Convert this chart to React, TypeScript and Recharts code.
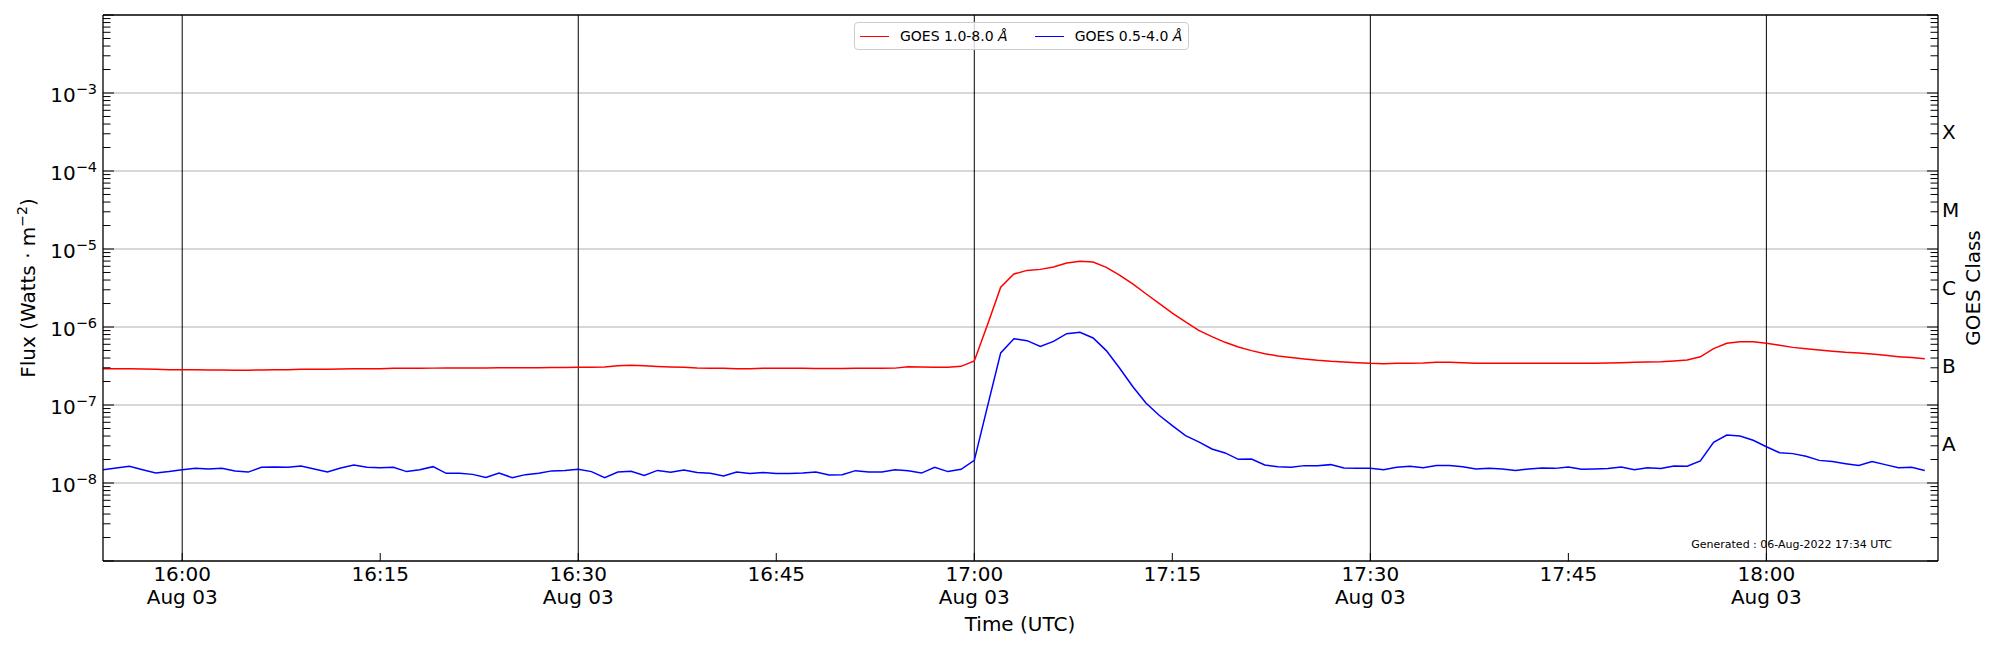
import { LineChart, Line, XAxis, YAxis, ReferenceLine, Legend } from "recharts";

const FONT = "DejaVu Sans, Liberation Sans, sans-serif";

// time axis, minutes after midnight UTC (1-minute GOES cadence)
const START_TIME = 15 * 60 + 54; // 15:54
const X_DOMAIN = [15 * 60 + 54, 18 * 60 + 13];
const TIME_TICKS = [960, 975, 990, 1005, 1020, 1035, 1050, 1065, 1080];
const HALF_HOUR_LINES = [960, 990, 1020, 1050, 1080];
const DATE_LABEL = "Aug 03";

// GOES 1.0-8.0 Å flux, W/m², 15:54 .. 18:12
const XRS_LONG = [
  2.92e-7, 2.92e-7, 2.92e-7, 2.9e-7, 2.87e-7, 2.84e-7, 2.84e-7, 2.84e-7, 2.82e-7, 2.82e-7,
  2.79e-7, 2.79e-7, 2.82e-7, 2.84e-7, 2.84e-7, 2.87e-7, 2.87e-7, 2.87e-7, 2.9e-7, 2.92e-7,
  2.92e-7, 2.92e-7, 2.95e-7, 2.95e-7, 2.95e-7, 2.97e-7, 2.98e-7, 2.98e-7, 2.98e-7, 2.99e-7,
  3.0e-7, 3.0e-7, 3.01e-7, 3.01e-7, 3.02e-7, 3.03e-7, 3.04e-7, 3.04e-7, 3.06e-7, 3.18e-7,
  3.23e-7, 3.18e-7, 3.12e-7, 3.08e-7, 3.04e-7, 2.98e-7, 2.95e-7, 2.95e-7, 2.92e-7, 2.92e-7,
  2.95e-7, 2.95e-7, 2.95e-7, 2.95e-7, 2.93e-7, 2.93e-7, 2.93e-7, 2.95e-7, 2.95e-7, 2.95e-7,
  2.97e-7, 3.1e-7, 3.07e-7, 3.04e-7, 3.04e-7, 3.13e-7, 3.67e-7, 1.07e-6, 3.23e-6, 4.78e-6,
  5.32e-6, 5.48e-6, 5.88e-6, 6.62e-6, 6.95e-6, 6.81e-6, 5.82e-6, 4.64e-6, 3.56e-6, 2.67e-6,
  2.01e-6, 1.51e-6, 1.16e-6, 9.06e-7, 7.52e-7, 6.36e-7, 5.54e-7, 4.98e-7, 4.55e-7, 4.25e-7,
  4.05e-7, 3.89e-7, 3.74e-7, 3.63e-7, 3.56e-7, 3.49e-7, 3.42e-7, 3.39e-7, 3.42e-7, 3.42e-7,
  3.45e-7, 3.52e-7, 3.52e-7, 3.49e-7, 3.42e-7, 3.42e-7, 3.42e-7, 3.42e-7, 3.42e-7, 3.42e-7,
  3.42e-7, 3.42e-7, 3.42e-7, 3.42e-7, 3.45e-7, 3.49e-7, 3.52e-7, 3.56e-7, 3.59e-7, 3.67e-7,
  3.78e-7, 4.15e-7, 5.28e-7, 6.18e-7, 6.49e-7, 6.49e-7, 6.18e-7, 5.82e-7, 5.48e-7, 5.28e-7,
  5.07e-7, 4.88e-7, 4.73e-7, 4.65e-7, 4.51e-7, 4.33e-7, 4.17e-7, 4.05e-7, 3.93e-7,
];

// GOES 0.5-4.0 Å flux, W/m², same times
const XRS_SHORT = [
  1.48e-8, 1.56e-8, 1.64e-8, 1.48e-8, 1.34e-8, 1.4e-8, 1.48e-8, 1.54e-8, 1.51e-8, 1.54e-8,
  1.43e-8, 1.38e-8, 1.59e-8, 1.6e-8, 1.59e-8, 1.65e-8, 1.51e-8, 1.38e-8, 1.56e-8, 1.7e-8,
  1.59e-8, 1.57e-8, 1.59e-8, 1.4e-8, 1.48e-8, 1.62e-8, 1.33e-8, 1.33e-8, 1.29e-8, 1.18e-8,
  1.34e-8, 1.17e-8, 1.28e-8, 1.33e-8, 1.43e-8, 1.45e-8, 1.5e-8, 1.4e-8, 1.17e-8, 1.38e-8,
  1.41e-8, 1.25e-8, 1.45e-8, 1.37e-8, 1.47e-8, 1.36e-8, 1.33e-8, 1.23e-8, 1.38e-8, 1.32e-8,
  1.36e-8, 1.32e-8, 1.32e-8, 1.34e-8, 1.38e-8, 1.27e-8, 1.28e-8, 1.44e-8, 1.38e-8, 1.38e-8,
  1.48e-8, 1.44e-8, 1.34e-8, 1.59e-8, 1.4e-8, 1.5e-8, 1.95e-8, 9.6e-8, 4.65e-7, 7.08e-7,
  6.68e-7, 5.65e-7, 6.55e-7, 8.22e-7, 8.55e-7, 7.23e-7, 4.98e-7, 2.98e-7, 1.73e-7, 1.06e-7,
  7.38e-8, 5.44e-8, 4.05e-8, 3.36e-8, 2.73e-8, 2.43e-8, 2.01e-8, 2.03e-8, 1.7e-8, 1.62e-8,
  1.59e-8, 1.67e-8, 1.67e-8, 1.72e-8, 1.56e-8, 1.54e-8, 1.54e-8, 1.48e-8, 1.59e-8, 1.64e-8,
  1.57e-8, 1.68e-8, 1.68e-8, 1.62e-8, 1.51e-8, 1.54e-8, 1.51e-8, 1.45e-8, 1.51e-8, 1.56e-8,
  1.54e-8, 1.6e-8, 1.5e-8, 1.51e-8, 1.53e-8, 1.6e-8, 1.48e-8, 1.57e-8, 1.53e-8, 1.65e-8,
  1.64e-8, 1.92e-8, 3.32e-8, 4.12e-8, 4.01e-8, 3.53e-8, 2.92e-8, 2.45e-8, 2.38e-8, 2.2e-8,
  1.95e-8, 1.88e-8, 1.77e-8, 1.68e-8, 1.88e-8, 1.72e-8, 1.57e-8, 1.59e-8, 1.45e-8,
];

// legend order as in the original plot
const SERIES_ORDER = ["long", "short"];

// y axis (log), decades shown, labelled decades, GOES class bands
const FLUX_DOMAIN = [1e-9, 1e-2];
const FLUX_DECADES = [-9, -8, -7, -6, -5, -4, -3];
const LABELED_DECADES = [-8, -7, -6, -5, -4, -3];
const CLASS_LABELS = ["A", "B", "C", "M", "X"];
const CLASS_EXPONENTS = [-7.5, -6.5, -5.5, -4.5, -3.5];

const TICK_GAP = 6;

const rows = XRS_LONG.map((v, i) => ({
  t: START_TIME + i,
  long: v,
  short: XRS_SHORT[i],
}));

const logTicks = [
  ...FLUX_DECADES.flatMap((e) =>
    [1, 2, 3, 4, 5, 6, 7, 8, 9].map((m) => m * 10 ** e)
  ),
  FLUX_DOMAIN[1],
];
const classTicks = CLASS_EXPONENTS.map((e) => 10 ** e);
const rightTicks = [...logTicks, ...classTicks].sort((a, b) => a - b);

function decadeOf(v: number) {
  const lg = Math.log10(v);
  const e = Math.round(lg);
  return Math.abs(lg - e) < 1e-6 ? e : null;
}

function fmtTime(m: number) {
  const h = Math.floor(m / 60);
  const mm = m % 60;
  return `${h}:${mm < 10 ? "0" : ""}${mm}`;
}

function FluxTick(props: any) {
  const { x, y, payload } = props;
  const e = decadeOf(payload.value);
  const edge = x + TICK_GAP;
  return (
    <g>
      <line x1={edge} x2={edge + (e !== null ? 11 : 7.5)} y1={y} y2={y} stroke="#000" strokeWidth={1} />
      {e !== null && LABELED_DECADES.includes(e) && (
        <text x={x} y={y + 9} textAnchor="end" fontSize={20} fontFamily={FONT} fill="#000">
          10
          <tspan dy={-8.3} fontSize={14.5}>{`\u2212${-e}`}</tspan>
        </text>
      )}
    </g>
  );
}

function ClassTick(props: any) {
  const { x, y, payload } = props;
  const v = payload.value;
  const ci = CLASS_EXPONENTS.findIndex((e) => Math.abs(Math.log10(v) - e) < 1e-6);
  if (ci >= 0) {
    return (
      <text x={x - 2} y={y + 7.3} textAnchor="start" fontSize={20} fontFamily={FONT} fill="#000">
        {CLASS_LABELS[ci]}
      </text>
    );
  }
  const e = decadeOf(v);
  const edge = x - TICK_GAP;
  return <line x1={edge} x2={edge - (e !== null ? 11 : 7.5)} y1={y} y2={y} stroke="#000" strokeWidth={1} />;
}

function TimeTick(props: any) {
  const { x, y, payload } = props;
  const m = payload.value;
  const base = y - TICK_GAP;
  return (
    <g>
      <line x1={x} x2={x} y1={base} y2={base - 8} stroke="#000" strokeWidth={1} />
      <text x={x} y={base + 20.3} textAnchor="middle" fontSize={20} fontFamily={FONT} fill="#000">
        {fmtTime(m)}
      </text>
      {m % 30 === 0 && (
        <text x={x} y={base + 42.9} textAnchor="middle" fontSize={20} fontFamily={FONT} fill="#000">
          {DATE_LABEL}
        </text>
      )}
    </g>
  );
}

function GoesLegend({ payload }: any) {
  const items = [...(payload || [])].sort(
    (a: any, b: any) => SERIES_ORDER.indexOf(a.dataKey) - SERIES_ORDER.indexOf(b.dataKey)
  );
  return (
    <div
      style={{
        display: "inline-flex",
        alignItems: "center",
        height: 28,
        boxSizing: "border-box",
        border: "1px solid #cccccc",
        borderRadius: 4,
        background: "rgba(255,255,255,0.8)",
        padding: "0 6px 0 5px",
        fontFamily: FONT,
        fontSize: 14,
        color: "#000",
        whiteSpace: "nowrap",
      }}
    >
      {items.map((p: any, i: number) => {
        const name = String(p.value);
        const plain = name.replace("Å", "");
        return (
          <div key={name} style={{ display: "flex", alignItems: "center", marginLeft: i ? 27 : 0 }}>
            <span style={{ display: "inline-block", width: 29, borderTop: `1.5px solid ${p.color}`, marginRight: 11 }} />
            <span>
              {plain}
              <i>Å</i>
            </span>
          </div>
        );
      })}
    </div>
  );
}

export default function App() {
  return (
    <div style={{ position: "absolute", left: 0, top: 0, width: 2000, height: 650, background: "#fff" }}>
      <LineChart
        width={2000}
        height={650}
        data={rows}
        margin={{ top: 15, right: 7, bottom: 29, left: 8 }}
      >
        <XAxis
          dataKey="t"
          type="number"
          domain={X_DOMAIN}
          allowDataOverflow
          ticks={TIME_TICKS}
          interval={0}
          tickSize={0}
          tickMargin={TICK_GAP}
          height={60}
          axisLine={{ stroke: "#000", strokeWidth: 1.3 }}
          tick={<TimeTick />}
        />
        <YAxis
          yAxisId="flux"
          type="number"
          scale="log"
          domain={FLUX_DOMAIN}
          allowDataOverflow
          ticks={logTicks}
          interval={0}
          tickSize={0}
          tickMargin={TICK_GAP}
          width={95}
          axisLine={{ stroke: "#000", strokeWidth: 1.3 }}
          tick={<FluxTick />}
        />
        <YAxis
          yAxisId="cls"
          orientation="right"
          type="number"
          scale="log"
          domain={FLUX_DOMAIN}
          allowDataOverflow
          ticks={rightTicks}
          interval={0}
          tickSize={0}
          tickMargin={TICK_GAP}
          width={55}
          axisLine={{ stroke: "#000", strokeWidth: 1.3 }}
          tick={<ClassTick />}
        />
        {LABELED_DECADES.map((e) => (
          <ReferenceLine key={`h${e}`} yAxisId="flux" y={10 ** e} stroke="#b0b0b0" strokeWidth={1} />
        ))}
        {HALF_HOUR_LINES.map((m) => (
          <ReferenceLine key={`v${m}`} yAxisId="flux" x={m} stroke="#000" strokeWidth={1} />
        ))}
        <ReferenceLine yAxisId="flux" y={FLUX_DOMAIN[1]} stroke="#000" strokeWidth={1.3} />
        <Line
          yAxisId="flux"
          dataKey="long"
          name="GOES 1.0-8.0 Å"
          stroke="#ff0000"
          strokeWidth={1.5}
          dot={false}
          type="linear"
          isAnimationActive={false}
        />
        <Line
          yAxisId="flux"
          dataKey="short"
          name="GOES 0.5-4.0 Å"
          stroke="#0000ff"
          strokeWidth={1.5}
          dot={false}
          type="linear"
          isAnimationActive={false}
        />
        <Legend
          layout="vertical"
          verticalAlign="middle"
          align="center"
          wrapperStyle={{ top: 22, left: 854, width: "auto", height: 28 }}
          content={<GoesLegend />}
        />
      </LineChart>
      <svg
        width={2000}
        height={650}
        style={{ position: "absolute", left: 0, top: 0, pointerEvents: "none" }}
        fontFamily={FONT}
        fill="#000"
      >
        <text transform="translate(34.8,288) rotate(-90)" textAnchor="middle" fontSize={20}>
          Flux (Watts · m
          <tspan dy={-8} fontSize={14}>{"\u22122"}</tspan>
          <tspan dy={8}>)</tspan>
        </text>
        <text transform="translate(1980,288) rotate(-90)" textAnchor="middle" fontSize={20}>
          GOES Class
        </text>
        <text x={1020} y={630.7} textAnchor="middle" fontSize={20}>
          Time (UTC)
        </text>
        <text x={1892} y={547.7} textAnchor="end" fontSize={11}>
          Generated : 06-Aug-2022 17:34 UTC
        </text>
      </svg>
    </div>
  );
}
